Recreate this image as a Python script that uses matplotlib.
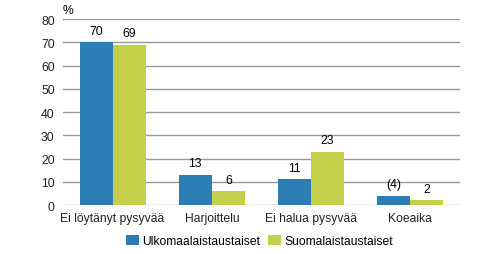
import numpy as np
import matplotlib.pyplot as plt

plt.rcParams['font.family'] = ['Liberation Sans', 'DejaVu Sans']

# Aineisto
kategoriat = ["Ei löytänyt pysyvää", "Harjoittelu", "Ei halua pysyvää", "Koeaika"]
ulkomaalais = [70, 13, 11, 4]
suomalais = [69, 6, 23, 2]
ulko_tekstit = ["70", "13", "11", "(4)"]
suomi_tekstit = ["69", "6", "23", "2"]

sininen = "#2e7eb6"
vihrea = "#c4d04a"
fs = 8.7

fig = plt.figure(figsize=(5, 2.55), dpi=100)
ax = fig.add_axes([0.126, 0.192, 0.794, 0.729])

x = np.arange(len(kategoriat))
w = 0.333
b1 = ax.bar(x - w / 2, ulkomaalais, w, color=sininen, label="Ulkomaalaistaustaiset", zorder=3)
b2 = ax.bar(x + w / 2, suomalais, w, color=vihrea, label="Suomalaistaustaiset", zorder=3)

for rect, t in zip(b1, ulko_tekstit):
    ax.annotate(t, (rect.get_x() + rect.get_width() / 2, rect.get_height()),
                xytext=(0, 4), textcoords="offset points", ha="center", va="bottom", fontsize=fs)
for rect, t in zip(b2, suomi_tekstit):
    ax.annotate(t, (rect.get_x() + rect.get_width() / 2, rect.get_height()),
                xytext=(0, 4), textcoords="offset points", ha="center", va="bottom", fontsize=fs)

ax.set_xlim(-0.5, len(kategoriat) - 0.5)
ax.set_ylim(0, 80)
ax.set_yticks(range(0, 81, 10))
ax.set_xticks(x)
ax.set_xticklabels(kategoriat, fontsize=fs)
ax.tick_params(axis="both", length=0, labelsize=fs, colors="#222222")
ax.tick_params(axis="x", pad=5)
ax.tick_params(axis="y", pad=6)
ax.yaxis.grid(True, color="#999999", linewidth=1, zorder=0)
for s in ax.spines.values():
    s.set_visible(False)

ax.text(0, 1.015, "%", transform=ax.transAxes, fontsize=fs, ha="left", va="bottom")

ax.legend(loc="upper center", bbox_to_anchor=(0.495, -0.1), ncol=2, frameon=False,
          fontsize=fs, handlelength=1.1, handleheight=0.9, handletextpad=0.3, columnspacing=0.6)

fig.savefig("out.png", dpi=100)
